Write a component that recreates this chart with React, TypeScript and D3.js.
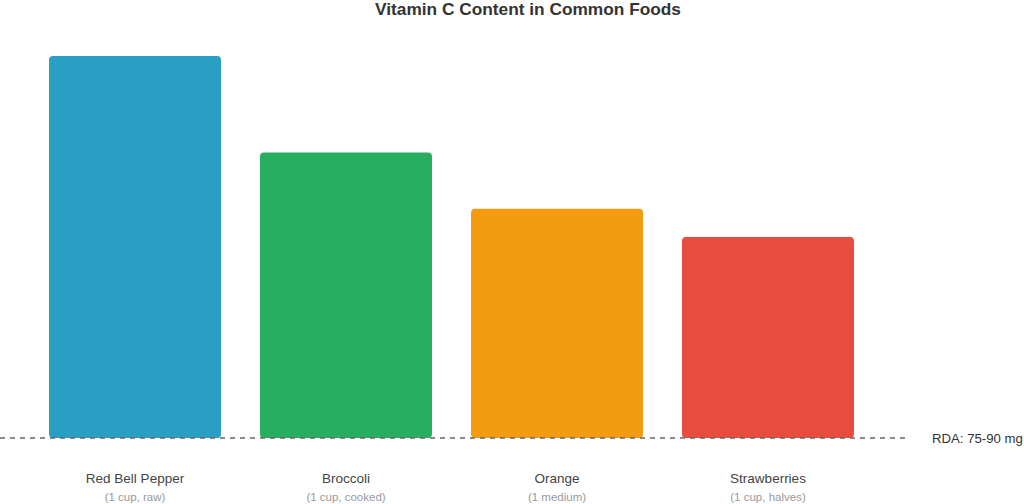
import React, { useEffect, useRef } from "react";
import * as d3 from "d3";

const foods = ["Red Bell Pepper", "Broccoli", "Orange", "Strawberries"];
const servings = ["(1 cup, raw)", "(1 cup, cooked)", "(1 medium)", "(1 cup, halves)"];
const vitaminC = [190, 142, 114, 100];
const colors = ["#2a9fc4", "#27ae60", "#f39c12", "#e74c3c"];
const rdaLabel = "RDA: 75-90 mg";

function drawChart(el: SVGSVGElement) {
  const svg = d3.select(el);
  svg.selectAll("*").remove();

  const baseline = 438;

  const x = d3
    .scaleBand<string>()
    .domain(foods)
    .range([29.5, 873.5])
    .paddingInner(0.185)
    .paddingOuter(0.0925);

  const y = d3.scaleLinear().domain([0, 190]).range([baseline, 56]);

  // title
  svg
    .append("text")
    .attr("x", 528)
    .attr("y", 14.5)
    .attr("text-anchor", "middle")
    .attr("font-size", 17.3)
    .attr("font-weight", "bold")
    .attr("fill", "#333")
    .text("Vitamin C Content in Common Foods");

  // bars
  svg
    .append("g")
    .selectAll("rect")
    .data(foods)
    .enter()
    .append("rect")
    .attr("x", (d) => x(d) as number)
    .attr("y", (d, i) => y(vitaminC[i]))
    .attr("width", x.bandwidth())
    .attr("height", (d, i) => baseline - y(vitaminC[i]))
    .attr("rx", 4)
    .attr("fill", (d, i) => colors[i]);

  // RDA dashed line
  svg
    .append("line")
    .attr("x1", 0)
    .attr("x2", 907)
    .attr("y1", baseline)
    .attr("y2", baseline)
    .attr("stroke", "#666")
    .attr("stroke-width", 1.5)
    .attr("stroke-dasharray", "5,5");

  svg
    .append("text")
    .attr("x", 932)
    .attr("y", baseline)
    .attr("dy", "0.35em")
    .attr("font-size", 13.2)
    .attr("fill", "#333")
    .text(rdaLabel);

  // category labels
  const labels = svg
    .append("g")
    .selectAll("g")
    .data(foods)
    .enter()
    .append("g")
    .attr("transform", (d) => `translate(${(x(d) as number) + x.bandwidth() / 2},0)`);

  labels
    .append("text")
    .attr("y", 478)
    .attr("dy", "0.35em")
    .attr("text-anchor", "middle")
    .attr("font-size", 13.5)
    .attr("fill", "#444")
    .text((d) => d);

  labels
    .append("text")
    .attr("y", 497)
    .attr("dy", "0.35em")
    .attr("text-anchor", "middle")
    .attr("font-size", 11.5)
    .attr("fill", "#999")
    .text((d, i) => servings[i]);
}

export default function App() {
  const ref = useRef<SVGSVGElement>(null);
  useEffect(() => {
    if (ref.current) drawChart(ref.current);
  }, []);
  return (
    <svg
      ref={ref}
      width={1024}
      height={504}
      style={{ position: "absolute", left: 0, top: 0, fontFamily: "'Liberation Sans', Arial, sans-serif", background: "#fff" }}
    />
  );
}
